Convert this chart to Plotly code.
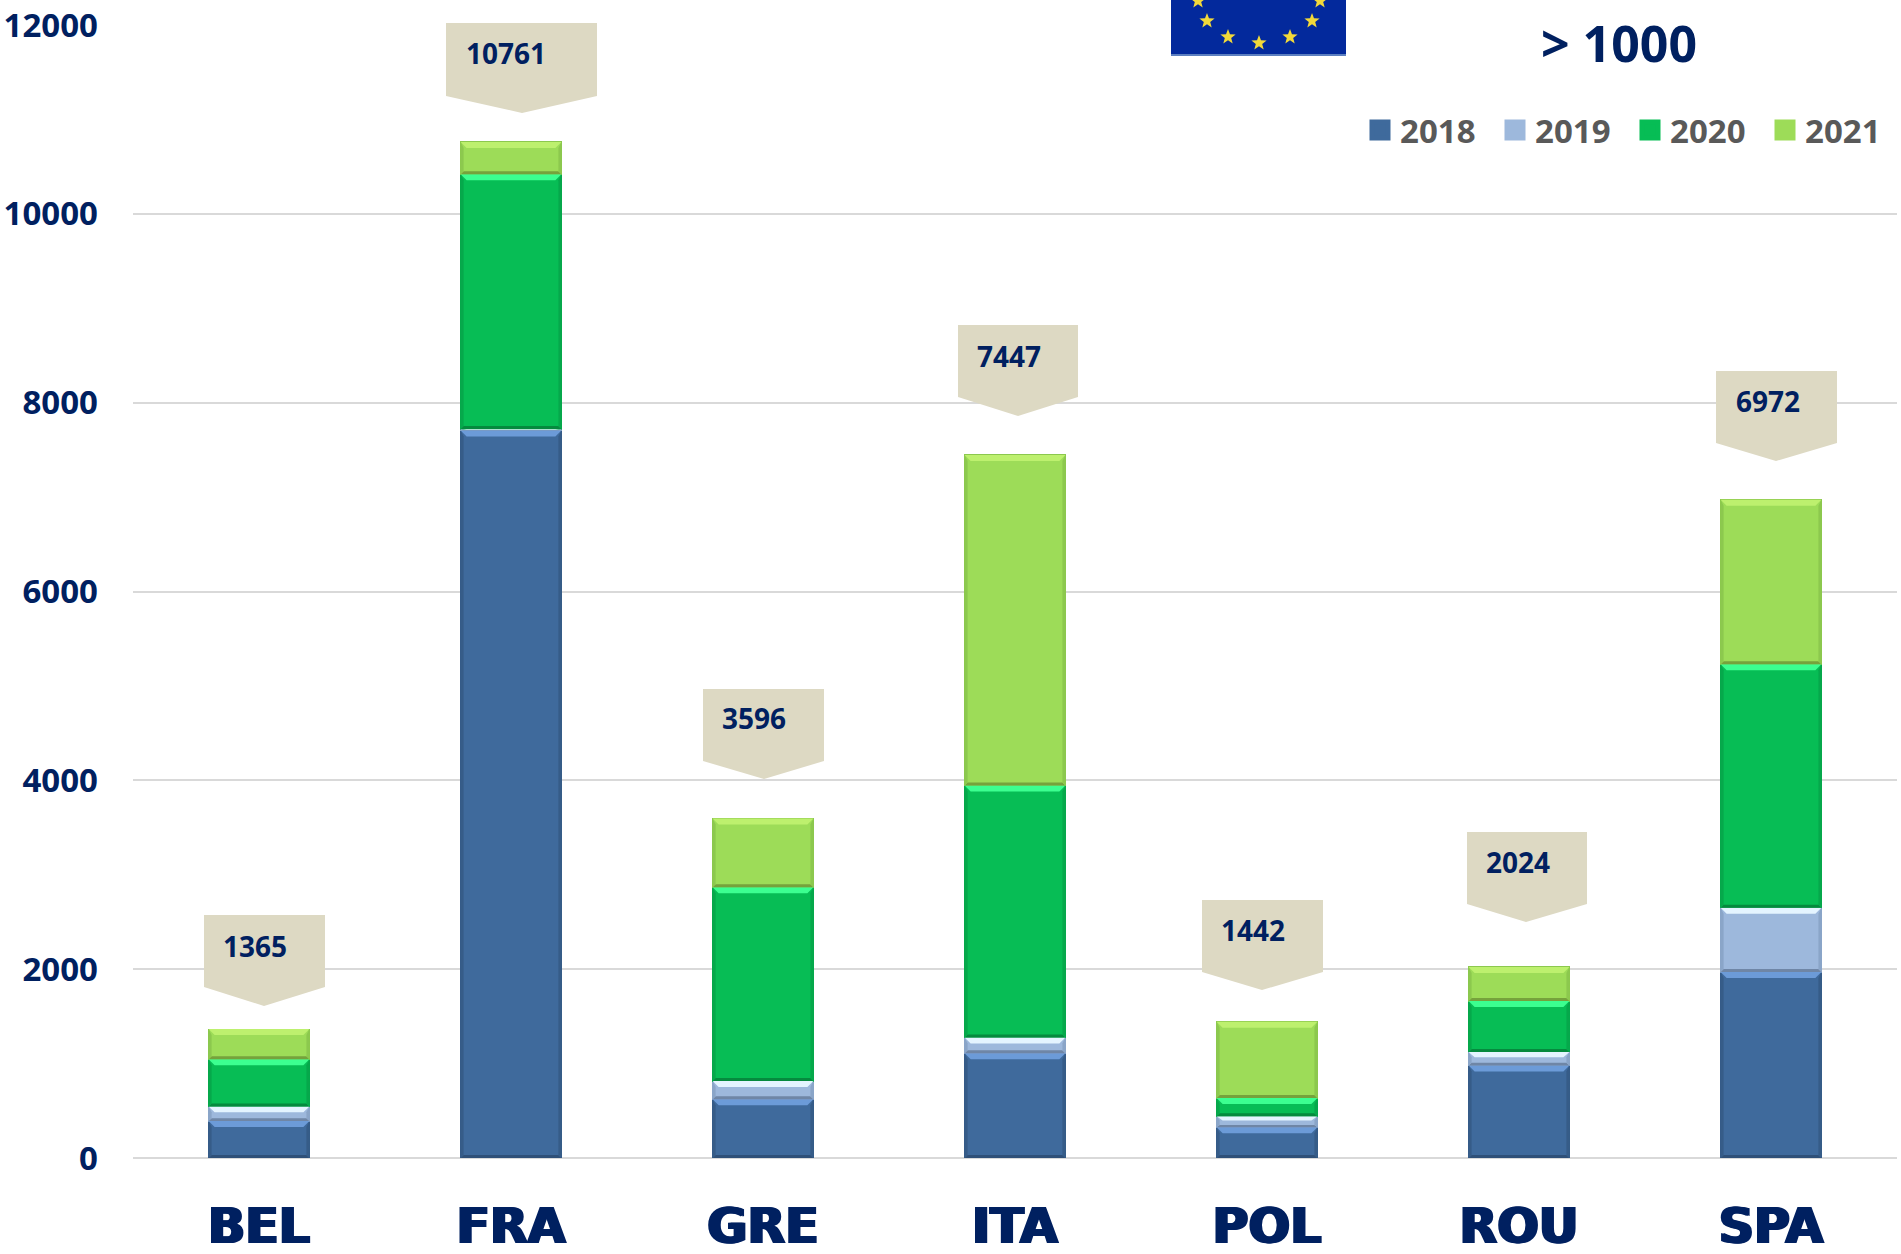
import math
import plotly.graph_objects as go

W, H = 1901, 1254
L, R, T, B = 133, 1897, 25, 1158

countries = ["BEL", "FRA", "GRE", "ITA", "POL", "ROU", "SPA"]
years = ["2018", "2019", "2020", "2021"]
v2018 = [391, 7705, 622, 1110, 327, 981, 1970]
v2019 = [154, 15, 193, 167, 116, 142, 680]
v2020 = [501, 2700, 2053, 2669, 192, 539, 2579]
v2021 = [319, 341, 728, 3501, 807, 362, 1743]
totals = [1365, 10761, 3596, 7447, 1442, 2024, 6972]
series = [v2018, v2019, v2020, v2021]

base_col = ["#3F6A9C", "#9DB8DC", "#07BD55", "#9DDC58"]
top_col = ["#6C9BD8", "#E4F4FF", "#3CFF90", "#BDF06E"]
side_col = ["#365C88", "#8AA5C8", "#06A84B", "#8CC84E"]
bot_col = ["#2F5078", "#6F86A6", "#058A3E", "#76A23C"]

NAVY = "#002060"
FONT = "Noto Sans"
BAR_W = 0.4

def fx(x):
    return (x - L) / (R - L)
def fy(y):
    return (B - y) / (B - T)

def paper_poly(points, color):
    d = "M" + " L".join(f"{fx(x):.5f},{fy(y):.5f}" for x, y in points) + " Z"
    return dict(type="path", xref="paper", yref="paper", path=d, fillcolor=color,
                line=dict(width=0), layer="above")

fig = go.Figure()
for i, (yr, vals) in enumerate(zip(years, series)):
    fig.add_trace(go.Bar(x=countries, y=vals, name=yr, showlegend=False,
                         marker=dict(color=base_col[i], line=dict(color=side_col[i], width=1))))
# Legend keys: large square swatches
for i, yr in enumerate(years):
    fig.add_trace(go.Scatter(x=[None], y=[None], name=yr, mode="markers", hoverinfo="skip",
                             marker=dict(symbol="square", size=16, color=base_col[i],
                                         line=dict(color=base_col[i], width=5))))

shapes = []
PXY = 12000 / (B - T)
PXX = len(countries) / (R - L)

def data_poly(pts, col):
    d = "M" + " L".join(f"{a:.4f},{b:.2f}" for a, b in pts) + " Z"
    shapes.append(dict(type="path", xref="x", yref="y", path=d, fillcolor=col,
                       line=dict(width=0), layer="above"))

for c in range(len(countries)):
    bottom = 0
    for s in range(4):
        v = series[s][c]
        top = bottom + v
        x0, x1 = c - BAR_W / 2, c + BAR_W / 2
        h_px = v / PXY
        bt = min(6, h_px * 0.4) * PXY
        bb = min(3, h_px * 0.2) * PXY
        bs = 6 * PXX
        data_poly([(x0, top), (x1, top), (x1 - bs, top - bt), (x0 + bs, top - bt)], top_col[s])
        data_poly([(x0, bottom), (x1, bottom), (x1 - bs / 2, bottom + bb), (x0 + bs / 2, bottom + bb)], bot_col[s])
        data_poly([(x0, bottom), (x0 + bs / 2, bottom + bb), (x0 + bs / 2, top - bt), (x0, top)], side_col[s])
        data_poly([(x1, bottom), (x1 - bs / 2, bottom + bb), (x1 - bs / 2, top - bt), (x1, top)], side_col[s])
        bottom = top

# Callouts: left, right, top, shoulder, tip x, tip y, label x, label y
callouts = [
    (204, 325, 915, 987, 264, 1006, 255, 946),
    (446, 597, 23, 96, 522, 113, 506, 53),
    (703, 824, 689, 761, 764, 779, 754, 718),
    (958, 1078, 325, 397, 1018, 416, 1009, 356),
    (1202, 1323, 900, 972, 1262, 990, 1253, 930),
    (1467, 1587, 832, 904, 1526, 922, 1518, 862),
    (1716, 1837, 371, 443, 1776, 461, 1768, 401),
]
annotations = []
for (l, r, t, s, tx, ty, lx, ly), total in zip(callouts, totals):
    shapes.append(paper_poly([(l, t), (r, t), (r, s), (tx, ty), (l, s)], "#DDD9C3"))
    annotations.append(dict(xref="paper", yref="paper", x=fx(lx), y=fy(ly), xanchor="center", yanchor="middle",
                            text=f"<b>{total}</b>", showarrow=False,
                            font=dict(family=FONT, size=28, color=NAVY)))

# Flag
shapes.append(dict(type="rect", xref="paper", yref="paper", x0=fx(1171), x1=fx(1346), y0=fy(55), y1=fy(-5),
                   fillcolor="#03299C", line=dict(width=0), layer="above"))
shapes.append(dict(type="rect", xref="paper", yref="paper", x0=fx(1171), x1=fx(1346), y0=fy(56), y1=fy(54),
                   fillcolor="#5C7FC0", line=dict(width=0), layer="above"))

def star(cx, cy, r=8):
    pts = []
    for k in range(10):
        a = -math.pi / 2 + k * math.pi / 5
        rr = r if k % 2 == 0 else r * 0.42
        pts.append((cx + rr * math.cos(a), cy + rr * math.sin(a)))
    return pts

for cx, cy in [(1198, 1), (1320, 1), (1207, 21), (1312, 21), (1228, 37), (1259, 43), (1290, 37)]:
    shapes.append(paper_poly(star(cx, cy), "#F2D93A"))

annotations.append(dict(xref="paper", yref="paper", x=fx(1619), y=fy(43), xanchor="center", yanchor="middle",
                        text="<b>&gt; 1000</b>", showarrow=False,
                        font=dict(family=FONT, size=50, color=NAVY)))

heavy = "1.5px 0 0 #002060, -1.5px 0 0 #002060"

fig.update_layout(
    width=W, height=H,
    margin=dict(l=L, r=W - R, t=T, b=H - B, pad=0, autoexpand=False),
    barmode="stack", bargap=1 - BAR_W,
    plot_bgcolor="white", paper_bgcolor="white",
    font=dict(family=FONT, color=NAVY),
    shapes=shapes, annotations=annotations,
    legend=dict(orientation="h", x=fx(1360), xanchor="left", y=fy(130), yanchor="middle",
                traceorder="normal",
                font=dict(family=FONT, size=33, color="#595959", weight="bold"),
                entrywidth=90, entrywidthmode="pixels", bgcolor="rgba(0,0,0,0)",
                itemclick=False, itemdoubleclick=False),
    xaxis=dict(type="category", categoryorder="array", categoryarray=countries,
               tickfont=dict(family="DejaVu Sans", size=49, color=NAVY, weight="bold", shadow=heavy),
               ticks="", showgrid=False, showline=False, ticklabelstandoff=35, zeroline=False),
    yaxis=dict(range=[0, 12000], tickvals=list(range(0, 12001, 2000)), tickformat="d",
               tickfont=dict(family=FONT, size=33, color=NAVY, weight="bold"),
               gridcolor="#D9D9D9", gridwidth=2, zeroline=True, zerolinecolor="#D9D9D9", zerolinewidth=2,
               showline=False, ticks="", ticklabelstandoff=34),
)
fig.write_html("out.html", post_script='document.body.style.margin="0";',
               config=dict(displayModeBar=False))
